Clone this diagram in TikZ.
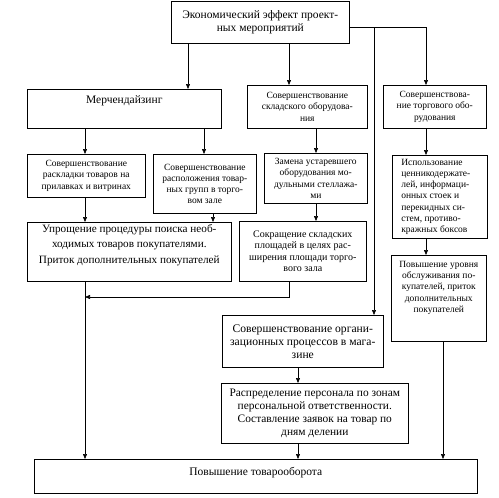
\documentclass[tikz,border=0pt]{standalone}
\usepackage{fontspec}
\setmainfont{Liberation Serif}
\usetikzlibrary{positioning,calc,arrows.meta}

\newcommand{\boxtxt}[4][c]{\parbox[c][#3][#1]{#2}{\centering #4}}

\begin{document}
\begin{tikzpicture}[
			x=1pt, y=-1pt,
			line width=0.6pt,
			box/.style={draw, inner sep=0pt, anchor=north west},
			big/.style={font=\fontsize{11.5}{13.5}\selectfont},
			small/.style={font=\fontsize{9.5}{11.2}\selectfont},
			arr/.style={-{Triangle[length=5pt, width=4pt]}}
			]
			
			\useasboundingbox (0,0) rectangle (499,498);
			
			\node (eff) at (171,1) [box, big] {\boxtxt{178pt}{42pt}{Экономический эффект проект-\\ных мероприятий}};
			
			\node (merch) at (27,89) [box, font=\fontsize{11.5}{13}\selectfont] {\boxtxt[t]{194pt}{39pt}{\vspace*{6pt}Мерчендайзинг}};
			\node (skl) at (247,85) [box, small] {\boxtxt{120pt}{43pt}{Совершенствование\\складского оборудова-\\ния}};
			\node (torg) at (383,85) [box, small] {\boxtxt{103pt}{43pt}{Совершенствова-\\ние торгового обо-\\рудования}};
			
			\node (rask) at (27,154) [box, small] {\boxtxt{118pt}{43pt}{Совершенствование\\раскладки товаров на\\прилавках  и витринах}};
			\node (rasp) at (153,154) [box, small] {\boxtxt{103pt}{59pt}{Совершенствование\\расположения товар-\\ных групп в торго-\\вом зале}};
			\node (zam) at (264,153) [box, small] {\boxtxt{103pt}{50pt}{Замена устаревшего\\оборудования мо-\\дульными стеллажа-\\ми}};
			\node (isp) at (392,155) [box, small] {\boxtxt{95pt}{83pt}{\raggedright\leftskip=9pt Использование\\ценникодержате-\\лей, информаци-\\онных стоек и\\перекидных си-\\стем, противо-\\кражных боксов}};
			
			\node (upr) at (27,222) [box, font=\fontsize{11.2}{15.5}\selectfont] {\boxtxt[t]{204pt}{59pt}{\vspace*{2pt}Упрощение процедуры поиска необ-\\ходимых товаров покупателями.\\Приток  дополнительных покупателей}};
			\node (sokr) at (239,221) [box, font=\fontsize{10}{11.5}\selectfont] {\boxtxt{127pt}{60pt}{Сокращение  складских\\площадей  в  целях  рас-\\ширения  площади  торго-\\вого зала}};
			\node (povur) at (391,255) [box, small] {\boxtxt[t]{95pt}{86pt}{\vspace*{6pt}Повышение уровня\\обслуживания по-\\купателей, приток\\дополнительных\\покупателей}};
			
			\node (org) at (222,315) [box, font=\fontsize{11.6}{13}\selectfont] {\boxtxt{161pt}{52pt}{Совершенствование органи-\\зационных процессов в мага-\\зине}};
			\node (raspr) at (221,383) [box, font=\fontsize{11.4}{13}\selectfont] {\boxtxt{187pt}{60pt}{Распределение персонала по зонам\\персональной ответственности.\\Составление заявок на товар по\\дням делении}};
			
			\node (bot) at (34,459) [box, font=\fontsize{11.5}{13}\selectfont] {\boxtxt[t]{443pt}{34pt}{\vspace*{8pt}Повышение товарооборота}};
			
			\coordinate (r1) at (0,27);
			\coordinate (r2) at (0,297);
			\coordinate (ca) at (85,0);
			\coordinate (cb) at (188,0);
			\coordinate (cc) at (204,0);
			\coordinate (cd) at (213,0);
			\coordinate (ce) at (289,0);
			\coordinate (cf) at (298,0);
			\coordinate (cg) at (316,0);
			\coordinate (ch) at (374,0);
			\coordinate (ci) at (426,0);
			\coordinate (cj) at (443,0);
			
			\draw [arr] (eff.south -| cb) -- (merch.north -| cb);
			\draw [arr] (eff.south -| ce) -- (skl.north -| ce);
			\draw [arr] (eff.east |- r1) -| (torg.north -| ci);
			\draw [arr] (r1 -| ch) -- (org.north -| ch);
			
			\draw [arr] (merch.south -| ca) -- (rask.north -| ca);
			\draw [arr] (merch.south -| cc) -- (rasp.north -| cc);
			\draw [arr] (skl.south -| cg) -- (zam.north -| cg);
			\draw [arr] (torg.south -| ci) -- (isp.north -| ci);
			
			\draw [arr] (rask.south -| ca) -- (upr.north -| ca);
			\draw [arr] (rasp.south -| cd) -- (upr.north -| cd);
			\draw [arr] (zam.south -| cg) -- (sokr.north -| cg);
			\draw [arr] (isp.south -| ci) -- (povur.north -| ci);
			
			\draw [arr] (sokr.south -| ce) |- (r2 -| ca);
			\draw [arr] (upr.south -| ca) -- (bot.north -| ca);
			
			\draw [arr] (org.south -| cf) -- (raspr.north -| cf);
			\draw [arr] (raspr.south -| cf) -- (bot.north -| cf);
			\draw [arr] (povur.south -| cj) -- (bot.north -| cj);
			\end{tikzpicture}
\end{document}
